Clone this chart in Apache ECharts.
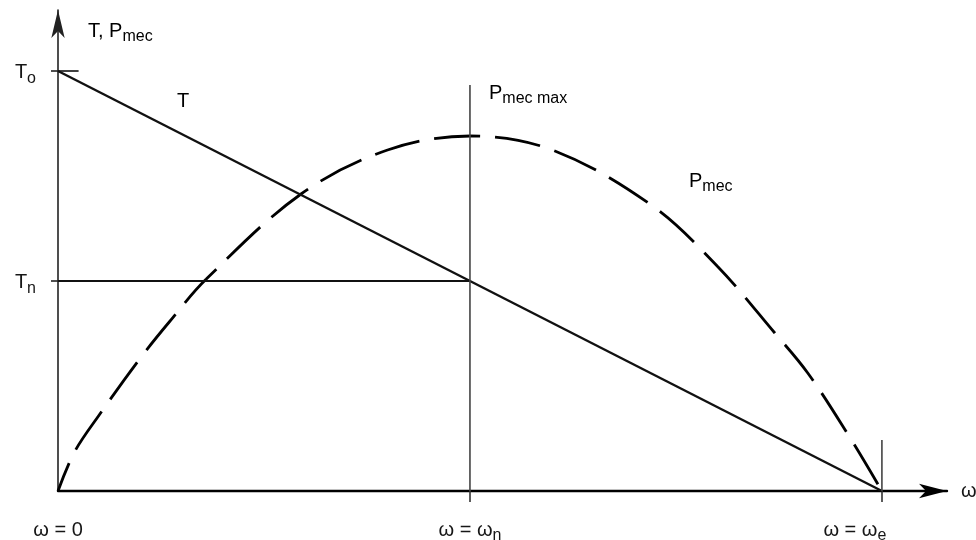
<!DOCTYPE html>
<html>
<head>
<meta charset="utf-8">
<script src="https://cdn.jsdelivr.net/npm/echarts@6/dist/echarts.min.js"></script>
<style>
html,body{margin:0;padding:0;background:#fff;}
#chart{width:976px;height:540px;}
</style>
</head>
<body>
<div id="chart"></div>
<script>
// ---- data (ω in units of ω_n; torque/power in arbitrary units) ----
const omegaTicks = [0, 1, 2];              // ω = 0, ω = ω_n, ω = ω_e
const omegaTickLabels = ['ω = 0', 'ω = ω_n', 'ω = ω_e'];
const torqueTicks = [21, 42];              // T_n, T_o
const torqueTickLabels = ['T_n', 'T_o'];
const torqueOmega = [0, 2];
const torqueValues = [42, 0];              // T line: T_o at ω=0 → 0 at ω_e
const ratedOmega = [0, 1];
const ratedTorque = [21, 21];              // T_n level up to ω_n
const ratedLineOmega = [1, 1];
const ratedLineValues = [0, 40.6];         // vertical at ω_n
const emfLineOmega = [2, 2];
const emfLineValues = [0, 5.1];            // tick at ω_e
const toTickOmega = [0, 0.05];
const toTickValues = [42, 42];
const powerOmega = [0, 0.04, 0.1, 0.2, 0.27, 0.36, 0.59, 0.8, 1.0, 1.2, 1.44, 1.6, 1.74, 1.82, 1.92, 2.0];
const powerValues = [0, 3.9, 7.6, 13.3, 16.9, 21.2, 29.7, 34.1, 35.5, 34.1, 28.6, 22.5, 15.8, 11.8, 5.5, 0];

const zip = (xs, ys) => xs.map((x, i) => [x, ys[i]]);
const TXT = '#161616';
const FONT = '"Liberation Sans", Arial, sans-serif';
const rich = {
  m: {fontSize: 20, fontFamily: FONT, color: TXT, verticalAlign: 'bottom', lineHeight: 23},
  s: {fontSize: 16, fontFamily: FONT, color: TXT, verticalAlign: 'bottom', lineHeight: 23, padding: [0, 0, -4, 0]},
  pad: {width: 54}
};
const fmt = s => {
  const p = s.split('_');
  return p.length > 1 ? '{m|' + p[0] + '}{s|' + p[1] + '}' : '{m|' + s + '}';
};

const chart = echarts.init(document.getElementById('chart'), null, {renderer: 'canvas'});
const lineSeries = (data, width, color) => ({
  type: 'line', data, symbol: 'none', clip: false, silent: true,
  lineStyle: {color, width}, z: 3
});

chart.setOption({
  animation: false,
  backgroundColor: '#fff',
  grid: {left: 58, right: 29, top: 10, bottom: 49, containLabel: false, outerBoundsMode: 'none'},
  xAxis: {
    type: 'value', min: 0, max: 2.158, interval: 1,
    name: 'ω', nameLocation: 'end', nameGap: 14,
    nameTextStyle: {fontSize: 20, fontFamily: FONT, color: TXT, verticalAlign: 'middle'},
    axisLine: {lineStyle: {color: '#000', width: 2.4}, symbol: ['none', 'arrow'], symbolSize: [11, 28], symbolOffset: [0, 0]},
    axisTick: {show: true, customValues: [1, 2], length: 11, lineStyle: {color: '#333', width: 1.6}},
    axisLabel: {
      customValues: omegaTicks, margin: 26,
      formatter: v => {
        const i = omegaTicks.indexOf(v);
        if (i < 0) return '';
        return fmt(omegaTickLabels[i]) + (i === 2 ? '{pad|}' : '');
      },
      rich
    },
    splitLine: {show: false}
  },
  yAxis: {
    type: 'value', min: 0, max: 48.1, interval: 21,
    axisLine: {lineStyle: {color: '#222', width: 1.6}, symbol: ['none', 'arrow'], symbolSize: [10, 28]},
    axisTick: {show: true, customValues: torqueTicks, length: 7, lineStyle: {color: '#222', width: 1.6}},
    axisLabel: {
      customValues: torqueTicks, margin: 22,
      formatter: v => {
        const i = torqueTicks.indexOf(v);
        return i < 0 ? '' : fmt(torqueTickLabels[i]);
      },
      rich
    },
    splitLine: {show: false}
  },
  graphic: [
    {type: 'text', left: 88, top: 21, style: {text: '{m|T, P}{s|mec}', rich}},
    {type: 'text', left: 177, top: 91, style: {text: '{m|T}', rich}},
    {type: 'text', left: 489, top: 83, style: {text: '{m|P}{s|mec max}', rich}},
    {type: 'text', left: 689, top: 171, style: {text: '{m|P}{s|mec}', rich}}
  ],
  series: [
    {
      type: 'line', data: zip(powerOmega, powerValues), symbol: 'none', smooth: 0.35,
      clip: false, silent: true, z: 2,
      lineStyle: {color: '#000', width: 2.8, type: [46, 15], dashOffset: 16}
    },
    lineSeries(zip(torqueOmega, torqueValues), 2.4, '#111'),
    lineSeries(zip(ratedOmega, ratedTorque), 1.8, '#111'),
    lineSeries(zip(ratedLineOmega, ratedLineValues), 1.6, '#444'),
    lineSeries(zip(emfLineOmega, emfLineValues), 1.6, '#444'),
    lineSeries(zip(toTickOmega, toTickValues), 1.6, '#111')
  ]
});
</script>
</body>
</html>
